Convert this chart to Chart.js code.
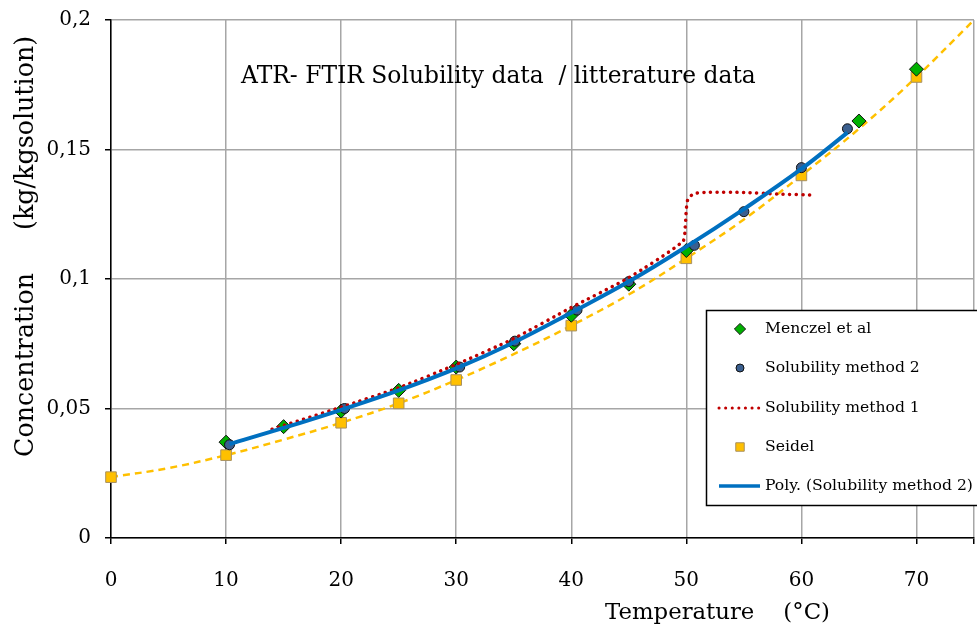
<!DOCTYPE html>
<html>
<head>
<meta charset="utf-8">
<script src="https://cdn.jsdelivr.net/npm/chart.js@4.4.0/dist/chart.umd.min.js"></script>
<style>
  html, body { margin:0; padding:0; background:#fff; }
  #wrap { width:977px; height:629px; }
</style>
</head>
<body>
<div id="wrap"><canvas id="chart" width="977" height="629"></canvas></div>
<script>
const SERIF = "'DejaVu Serif', serif";

// values
const menczelT = [10, 15, 20, 25, 30, 35, 40, 45, 50, 65, 70];
const menczelC = [0.037, 0.043, 0.049, 0.057, 0.066, 0.075, 0.086, 0.098, 0.111, 0.161, 0.181];

const method2T = [10.3, 20.3, 30.3, 35.1, 40.5, 45, 50.7, 55, 60, 64];
const method2C = [0.036, 0.050, 0.066, 0.076, 0.088, 0.099, 0.113, 0.126, 0.143, 0.158];

const method1T = [14, 20, 25, 30, 35, 40, 45, 49.7, 49.9, 50, 50.15, 50.7, 52, 55, 58, 61.2];
const method1C = [0.042, 0.0505, 0.058, 0.067, 0.077, 0.089, 0.1005, 0.1145, 0.12, 0.127, 0.131, 0.133, 0.1335, 0.1334, 0.1328, 0.1324];

const seidelT = [0, 10, 20, 25, 30, 40, 50, 60, 70];
const seidelC = [0.0235, 0.032, 0.0445, 0.052, 0.061, 0.082, 0.108, 0.140, 0.178];

const seidelTrendT = [0, 5, 10, 15, 20, 25, 30, 35, 40, 45, 50, 55, 60, 65, 70, 75];
const seidelTrendC = [0.0235, 0.027, 0.032, 0.038, 0.0445, 0.052, 0.061, 0.071, 0.082, 0.094, 0.108, 0.123, 0.140, 0.158, 0.178, 0.200];

const polyT = [10.3, 15, 20, 25, 30, 35, 40, 45, 50, 55, 60, 64];
const polyC = [0.0363, 0.0425, 0.0495, 0.057, 0.0655, 0.0755, 0.087, 0.099, 0.1125, 0.127, 0.1425, 0.1565];

const xTicks = [0, 10, 20, 30, 40, 50, 60, 70];
const yTicks = [0, 0.05, 0.1, 0.15, 0.2];

const TITLE = "ATR- FTIR Solubility data  / litterature data";
const X_TITLE = "Temperature    (\u00B0C)";
const Y_TITLE_A = "Concentration";
const Y_TITLE_B = "(kg/kgsolution)";

const pts = (xs, ys) => xs.map((x, i) => ({ x, y: ys[i] }));
const fmt = v => String(parseFloat(v.toFixed(3))).replace(".", ",");

const datasets = [
  { label:"Poly. (Solubility method 2)", data:pts(polyT, polyC), showLine:true, borderColor:"#0070c0", borderWidth:4, pointRadius:0, tension:0.4, fill:false },
  { label:"Solubility method 1", data:pts(method1T, method1C), showLine:true, borderColor:"#c00000", borderWidth:3.5, borderDash:[0.1, 6.5], borderCapStyle:"round", pointRadius:0, tension:0.2, fill:false },
  { label:"Solubility method 2", data:pts(method2T, method2C), showLine:false, pointStyle:"circle", pointRadius:5, backgroundColor:"#3b5f8f", borderColor:"#111", borderWidth:1 },
  { label:"Menczel et al", data:pts(menczelT, menczelC), showLine:false, pointStyle:"rectRot", pointRadius:7, backgroundColor:"#00b000", borderColor:"#111", borderWidth:1 },
  { label:"Seidel", data:pts(seidelT, seidelC), showLine:false, pointStyle:"rect", pointRadius:7.5, backgroundColor:"#ffc000", borderColor:"#a89060", borderWidth:1, clip:false },
  { label:"Seidel trend", data:pts(seidelTrendT, seidelTrendC), showLine:true, borderColor:"#ffc000", borderWidth:2.5, borderDash:[7, 5], pointRadius:0, tension:0.4, fill:false }
];

const legendOrder = ["Menczel et al", "Solubility method 2", "Solubility method 1", "Seidel", "Poly. (Solubility method 2)"];

// pick a font size so that text spans the given width
function fitSize(ctx, text, width) {
  ctx.font = "20px " + SERIF;
  return 20 * width / ctx.measureText(text).width;
}

const overlay = {
  id: "overlay",
  afterDraw(chart) {
    const ctx = chart.ctx;
    const xs = chart.scales.x, ys = chart.scales.y;
    ctx.save();
    ctx.fillStyle = "#000";
    ctx.textBaseline = "middle";

    // title inside plot
    ctx.font = fitSize(ctx, TITLE, 515) + "px " + SERIF;
    ctx.textAlign = "left";
    ctx.fillText(TITLE, xs.getPixelForValue(11.3), ys.getPixelForValue(0.178));

    // axis titles
    ctx.font = fitSize(ctx, X_TITLE, 225) + "px " + SERIF;
    ctx.fillText(X_TITLE, 605, 613);

    ctx.font = fitSize(ctx, Y_TITLE_A, 184) + "px " + SERIF;
    ctx.save();
    ctx.translate(26, 0);
    ctx.rotate(-Math.PI / 2);
    ctx.textAlign = "right";
    ctx.fillText(Y_TITLE_A, -273, 0);
    ctx.textAlign = "left";
    ctx.fillText(Y_TITLE_B, -230, 0);
    ctx.restore();

    // legend box
    const lx = 706, ly = 310, lw = 272, lh = 195;
    ctx.fillStyle = "#fff";
    ctx.fillRect(lx, ly, lw, lh);
    ctx.strokeStyle = "#000";
    ctx.lineWidth = 1.5;
    ctx.strokeRect(lx + 0.5, ly + 0.5, lw, lh);
    ctx.font = fitSize(ctx, "Solubility method 2", 155) + "px " + SERIF;
    ctx.textAlign = "left";
    const rowY = [329, 368, 408, 447, 486];
    legendOrder.forEach((name, i) => {
      const ds = datasets.find(d => d.label === name);
      const y = rowY[i];
      if (ds.showLine) {
        ctx.save();
        ctx.strokeStyle = ds.borderColor;
        ctx.lineWidth = ds.borderWidth === 4 ? 3.5 : 3;
        ctx.lineCap = ds.borderCapStyle || "butt";
        ctx.setLineDash(ds.borderDash || []);
        ctx.beginPath();
        ctx.moveTo(719, y);
        ctx.lineTo(760, y);
        ctx.stroke();
        ctx.restore();
      } else {
        ctx.save();
        ctx.fillStyle = ds.backgroundColor;
        ctx.strokeStyle = ds.borderColor;
        ctx.lineWidth = 1;
        Chart.helpers.drawPoint(ctx, { pointStyle: ds.pointStyle, radius: ds.pointRadius * 0.8, borderWidth: 1, rotation: 0 }, 740, y);
        ctx.restore();
      }
      ctx.fillStyle = "#000";
      ctx.fillText(name, 765, y);
    });
    ctx.restore();
  }
};

new Chart(document.getElementById("chart"), {
  type: "scatter",
  data: { datasets },
  options: {
    responsive: false,
    animation: false,
    layout: { autoPadding: false, padding: { top: 20, right: 3, left: 0, bottom: 0 } },
    plugins: { legend: { display:false }, tooltip: { enabled:false } },
    scales: {
      x: {
        type: "linear", min: 0, max: 75,
        afterBuildTicks: s => { s.ticks = xTicks.concat([75]).map(v => ({ value: v })); },
        afterFit: s => { s.height = 91; s.paddingLeft = 0; s.paddingRight = 0; },
        ticks: { color:"#000", font:{ family:SERIF, size:20 }, padding:25, callback: v => v === 75 ? "" : fmt(v) },
        grid: { color:"#a6a6a6", lineWidth:1.5, tickLength:6, tickColor:"#000" },
        border: { color:"#000", width:1.5 }
      },
      y: {
        type: "linear", min: 0, max: 0.2,
        afterBuildTicks: s => { s.ticks = yTicks.map(v => ({ value: v })); },
        afterFit: s => { s.width = 111; s.paddingTop = 0; s.paddingBottom = 0; },
        ticks: { color:"#000", font:{ family:SERIF, size:20 }, padding:14, callback: v => fmt(v) },
        grid: { color:"#a6a6a6", lineWidth:1.5, tickLength:6, tickColor:"#000" },
        border: { color:"#000", width:1.5 }
      }
    }
  },
  plugins: [overlay]
});
</script>
</body>
</html>
